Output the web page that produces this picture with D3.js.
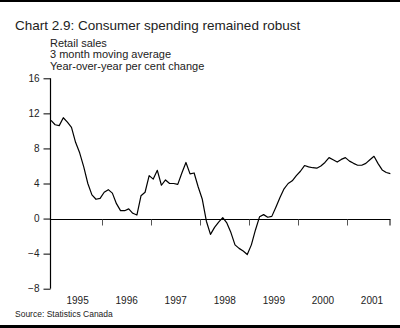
<!DOCTYPE html>
<html><head><meta charset="utf-8">
<script src="https://cdn.jsdelivr.net/npm/d3@7"></script>
<style>
html,body{margin:0;padding:0;background:#fff;}
svg{display:block;font-family:"Liberation Sans",Arial,Helvetica,sans-serif;}
</style></head>
<body>
<script>
// Monthly data, Dec 1994 – Nov 2001
const startYear = 1994, startMonth = 11; // December 1994
const values = [
 11.2,10.7,10.6,11.5,11.0,10.4,8.7,7.5,5.9,4.0,2.7,2.2,2.3,
 3.0,3.3,2.9,1.7,0.9,0.9,1.1,0.6,0.4,2.6,3.0,4.9,4.5,
 5.5,3.8,4.4,4.0,4.0,3.9,5.2,6.4,5.1,5.2,3.6,2.2,-0.3,
 -1.8,-1.0,-0.4,0.1,-0.5,-1.6,-3.0,-3.4,-3.7,-4.1,-3.0,-1.3,
 0.2,0.45,0.15,0.25,1.3,2.4,3.4,4.0,4.3,4.9,5.4,6.05,
 5.9,5.8,5.75,6.0,6.4,6.95,6.7,6.45,6.75,6.95,6.55,6.3,
 6.08,6.08,6.3,6.7,7.1,6.27,5.55,5.25,5.13
];
const yTicks = [-8,-4,0,4,8,12,16];
const yearLabels = ["1995","1996","1997","1998","1999","2000","2001"];
const titleText = "Chart 2.9: Consumer spending remained robust";
const subtitleLines = ["Retail sales","3 month moving average","Year-over-year per cent change"];
const sourceText = "Source: Statistics Canada";

const months = values.map((v,i)=>{
  const d = new Date(startYear, startMonth + i, 1);
  return {key: d.getFullYear()*100 + d.getMonth(), year: d.getFullYear(), month: d.getMonth(), value: v};
});

const W = 400, H = 328;
const svg = d3.select("body").append("svg").attr("width",W).attr("height",H);
svg.append("rect").attr("width",W).attr("height",H).attr("fill","#fff");

// frame bars
svg.append("rect").attr("x",0).attr("y",0).attr("width",W).attr("height",2).attr("fill","#000");
svg.append("rect").attr("x",0).attr("y",325).attr("width",W).attr("height",3).attr("fill","#000");

const x = d3.scaleBand().domain(months.map(d=>d.key)).range([49, 392.4]).padding(0);
const xc = k => x(k) + x.bandwidth()/2;
const y = d3.scaleLinear().domain([-8,16]).range([288.7, 78.3]);

const txt = "#222";

// Title
svg.append("text").attr("x",15).attr("y",29.5).attr("font-size",13.5).attr("fill",txt).text(titleText);
svg.selectAll("text.sub").data(subtitleLines).enter().append("text")
  .attr("class","sub").attr("x",50).attr("y",(d,i)=>46.5+i*11.8)
  .attr("font-size",11).attr("fill",txt).text(d=>d);

// Y axis
const yAxis = d3.axisLeft(y).tickValues(yTicks).tickSize(7).tickPadding(4).tickFormat(d3.format("d"));
const gy = svg.append("g").attr("transform","translate(50.5,0)").call(yAxis);
gy.select(".domain").attr("stroke","#000").attr("stroke-width",1.2).attr("d","M0,"+y(-8)+"V"+y(16));
gy.selectAll(".tick line").attr("stroke","#000").attr("stroke-width",1);
gy.selectAll(".tick text").attr("font-size",10).attr("fill",txt)
  .attr("font-family","Liberation Sans, Arial, sans-serif");

// X axis on zero line: ticks at January boundaries
const janKeys = months.filter(d=>d.month===0 && d.year>1995).map(d=>d.key);
const y0 = Math.round(y(0))+0.5;
const gx = svg.append("g").attr("transform","translate(0,"+y0+")");
gx.append("line").attr("x1",50).attr("x2",390.5).attr("y1",0).attr("y2",0).attr("stroke","#000").attr("stroke-width",1.2);
gx.selectAll("line.tk").data(janKeys).enter().append("line").attr("class","tk")
  .attr("x1",d=>Math.round(x(d))+0.5).attr("x2",d=>Math.round(x(d))+0.5)
  .attr("y1",0).attr("y2",6).attr("stroke","#555").attr("stroke-width",1);
gx.append("line").attr("x1",390).attr("x2",390).attr("y1",0).attr("y2",6).attr("stroke","#000").attr("stroke-width",1);

// Year labels centered on each year's span
const yearCenters = yearLabels.map(yl=>{
  const yr = +yl;
  const a = x(yr*100+0);
  const endKey = yr*100+11;
  const b = (x(endKey)!==undefined ? x(endKey) : x(yr*100+0) + 11*x.bandwidth()) + x.bandwidth();
  return {label: yl, cx: (a+b)/2};
});
svg.selectAll("text.yr").data(yearCenters).enter().append("text").attr("class","yr")
  .attr("x",d=>d.cx).attr("y",303.5).attr("text-anchor","middle")
  .attr("font-size",10).attr("fill",txt).text(d=>d.label);

// Line
const line = d3.line().x(d=>xc(d.key)).y(d=>y(d.value));
svg.append("path").datum(months).attr("d",line).attr("fill","none")
  .attr("stroke","#000").attr("stroke-width",1.2).attr("stroke-linejoin","round");

// Source
svg.append("text").attr("x",15).attr("y",316.5).attr("font-size",8.5).attr("fill",txt).text(sourceText);
</script>
</body></html>
